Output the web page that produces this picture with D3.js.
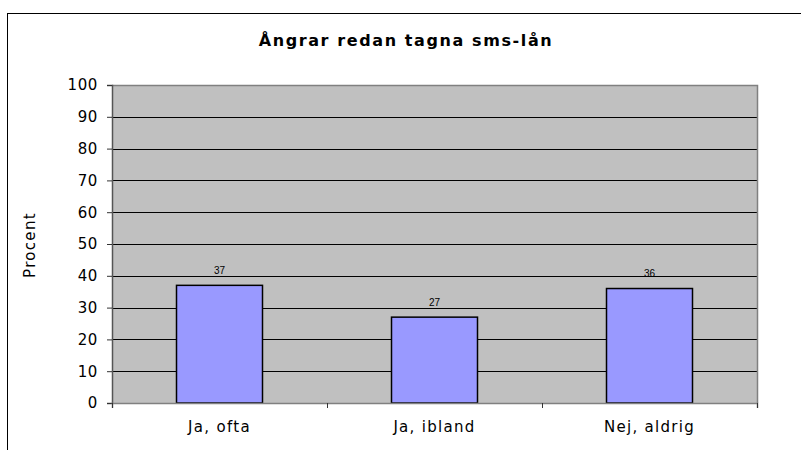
<!DOCTYPE html>
<html>
<head>
<meta charset="utf-8">
<script src="https://cdn.jsdelivr.net/npm/d3@7"></script>
<style>
  body { margin: 0; background: #fff; }
  svg text { font-family: "DejaVu Sans", Verdana, sans-serif; fill: #000; }
</style>
</head>
<body>
<div id="chart"></div>
<script>
const title = "Ångrar redan tagna sms-lån";
const yLabel = "Procent";
const categories = ["Ja, ofta", "Ja, ibland", "Nej, aldrig"];
const values = [37, 27, 36];
const yTicks = [0, 10, 20, 30, 40, 50, 60, 70, 80, 90, 100];

const width = 801;
const height = 450;
const plot = { left: 112, right: 757, top: 85, bottom: 403 };

const svg = d3.select("#chart")
  .append("svg")
  .attr("width", width)
  .attr("height", height);

// outer chart border (runs past the right and bottom edge)
svg.append("rect")
  .attr("x", 7.5)
  .attr("y", 13.5)
  .attr("width", 820)
  .attr("height", 460)
  .attr("fill", "#fff")
  .attr("stroke", "#000")
  .attr("stroke-width", 1);

const xScale = d3.scaleBand()
  .domain(categories)
  .range([plot.left, plot.right])
  .paddingInner(0.6)
  .paddingOuter(0.3);

const xEdges = d3.scaleLinear()
  .domain([0, categories.length])
  .range([plot.left, plot.right]);

const yScale = d3.scaleLinear()
  .domain([0, 100])
  .range([plot.bottom, plot.top]);

// plot area background
svg.append("rect")
  .attr("x", plot.left)
  .attr("y", plot.top)
  .attr("width", plot.right - plot.left)
  .attr("height", plot.bottom - plot.top)
  .attr("fill", "#c0c0c0");

// gridlines
svg.append("g")
  .selectAll("line")
  .data(yTicks.filter(d => d > 0 && d < 100))
  .enter()
  .append("line")
  .attr("x1", plot.left)
  .attr("x2", plot.right)
  .attr("y1", d => Math.round(yScale(d)) + 0.5)
  .attr("y2", d => Math.round(yScale(d)) + 0.5)
  .attr("stroke", "#000")
  .attr("stroke-width", 1);

// top and right frame of plot area
svg.append("path")
  .attr("d", `M${plot.left},${plot.top + 0.5}H${plot.right + 0.5}V${plot.bottom}`)
  .attr("fill", "none")
  .attr("stroke", "#808080")
  .attr("stroke-width", 1.5);

// bars
svg.append("g")
  .selectAll("rect")
  .data(values)
  .enter()
  .append("rect")
  .attr("x", (d, i) => xScale(categories[i]))
  .attr("y", d => yScale(d))
  .attr("width", xScale.bandwidth())
  .attr("height", d => yScale(0) - yScale(d))
  .attr("fill", "#9999ff")
  .attr("stroke", "#000")
  .attr("stroke-width", 1.5);

// value labels
svg.append("g")
  .selectAll("text")
  .data(values)
  .enter()
  .append("text")
  .attr("x", (d, i) => xScale(categories[i]) + xScale.bandwidth() / 2)
  .attr("y", d => yScale(d) - 11.5)
  .attr("text-anchor", "middle")
  .style("font-family", "'Liberation Sans', Arial, sans-serif")
  .style("font-size", "10px")
  .text(d => d);

// y axis
const yAxis = d3.axisLeft(yScale)
  .tickValues(yTicks)
  .tickSize(5)
  .tickPadding(9);

const yG = svg.append("g")
  .attr("transform", `translate(${plot.left},0)`)
  .call(yAxis);
yG.select(".domain").attr("stroke", "#555").attr("stroke-width", 1.5);
yG.selectAll(".tick line").attr("stroke", "#333");
yG.selectAll(".tick text")
  .style("font-size", "15px")
  .style("letter-spacing", "0.6px")
  .attr("fill", "#000");

// x axis: tick marks at category edges
const xTickAxis = d3.axisBottom(xEdges)
  .tickValues(d3.range(categories.length + 1))
  .tickSize(5)
  .tickFormat("");

const xG = svg.append("g")
  .attr("transform", `translate(0,${plot.bottom})`)
  .call(xTickAxis);
xG.select(".domain").attr("stroke", "#808080").attr("stroke-width", 1.5);
xG.selectAll(".tick line").attr("stroke", "#333");

// x axis: category labels
const xLabelAxis = d3.axisBottom(xScale)
  .tickSize(0)
  .tickPadding(18);

const xL = svg.append("g")
  .attr("transform", `translate(0,${plot.bottom})`)
  .call(xLabelAxis);
xL.select(".domain").remove();
xL.selectAll(".tick text")
  .style("font-size", "15px")
  .style("letter-spacing", "1.3px")
  .attr("fill", "#000");

// title
svg.append("text")
  .attr("x", 406)
  .attr("y", 46)
  .attr("text-anchor", "middle")
  .style("font-size", "16px")
  .style("font-weight", "bold")
  .style("letter-spacing", "1.6px")
  .text(title);

// y axis label
svg.append("text")
  .attr("transform", "translate(35,245) rotate(-90)")
  .attr("text-anchor", "middle")
  .style("font-size", "15px")
  .style("letter-spacing", "1.3px")
  .text(yLabel);
</script>
</body>
</html>
